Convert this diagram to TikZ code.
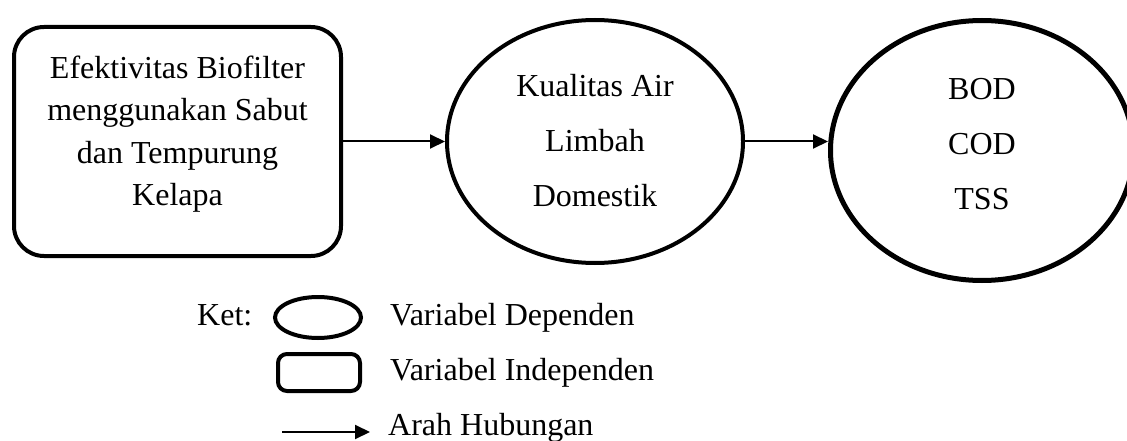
\documentclass[tikz,border=0pt]{standalone}
\usepackage{fontspec}
\setmainfont{Liberation Serif}
\usetikzlibrary{arrows.meta,shapes.geometric}
\begin{document}
\begin{tikzpicture}[x=1pt,y=-1pt,
  txt/.style={font=\fontsize{32}{42.3}\selectfont, align=center, inner sep=0pt},
  lbl/.style={font=\fontsize{32}{40}\selectfont, inner sep=0pt, anchor=base west},
  indep/.style={draw, line width=4pt, rounded corners=30pt, rectangle, inner sep=0pt},
  dep/.style={draw, line width=4pt, ellipse, inner sep=0pt},
  conn/.style={line width=2pt, -{Triangle[length=15pt,width=14pt]}},
]
\useasboundingbox (0,0) rectangle (1127,441);
% main shapes
\node[indep, minimum width=327pt, minimum height=229pt] (box) at (177.5,141.5) {};
\node[dep, minimum width=296pt, minimum height=243pt] (c1) at (595,141.5) {};
\node[dep, line width=5pt, minimum width=303pt, minimum height=260pt] (c2) at (982,150.5) {};
% texts
\node[txt, font=\fontsize{32}{42.3}\selectfont] (tbox) at (177.5,134) {Efektivitas Biofilter\\menggunakan Sabut\\dan Tempurung\\Kelapa};
\node[txt, font=\fontsize{32}{55}\selectfont] (tc1) at (595,141) {Kualitas Air\\Limbah\\Domestik};
\node[txt, font=\fontsize{32}{55}\selectfont] (tc2) at (982,144) {BOD\\COD\\TSS};
% connectors
\draw[conn] (box.east) -- (c1.west);
\draw[conn] (c1.east) -- (c1.east -| c2.west);
% legend
\node[lbl] (ket) at (197,325) {Ket:};
\node[dep, minimum width=86pt, minimum height=41pt] (lgdep) at (318,317.5) {};
\node[lbl] (tdep) at (390,325) {Variabel Dependen};
\node[indep, rounded corners=9pt, minimum width=82pt, minimum height=37pt] (lgind) at (319,372.5) {};
\node[lbl] (tind) at (390,380) {Variabel Independen};
\coordinate (la) at (282,432);
\coordinate (lb) at (370,432);
\draw[conn] (la) -- (lb);
\node[lbl] (tarr) at (388,435) {Arah Hubungan};
\end{tikzpicture}
\end{document}
